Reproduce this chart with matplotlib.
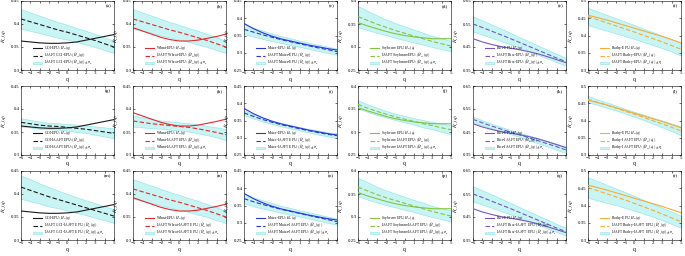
import matplotlib
matplotlib.use("Agg")
import matplotlib.pyplot as plt
import numpy as np

plt.rcParams["font.family"] = ["Liberation Serif", "DejaVu Serif"]
plt.rcParams["mathtext.fontset"] = "stix"

# ---------------------------------------------------------------------------
# Data
# ---------------------------------------------------------------------------
q = [-5, -4, -3, -2, -1, 0, 1, 2, 3, 4, 5]

names = ["GOI", "Wheat", "Maize", "Soybeans", "Rice", "Barley"]
colors = ["#1a1a1a", "#e8262b", "#2a36d8", "#86c440", "#7457c4", "#f4ad38"]

# EPU generalized Hurst exponents (same in every row)
goi_epu = [0.363, 0.361, 0.359, 0.358, 0.358, 0.359, 0.361, 0.365, 0.369, 0.373, 0.377]
wheat_epu = [0.392, 0.385, 0.378, 0.371, 0.366, 0.363, 0.363, 0.365, 0.369, 0.373, 0.378]
maize_epu = [0.385, 0.370, 0.358, 0.348, 0.340, 0.334, 0.328, 0.322, 0.317, 0.312, 0.308]
soy_epu = [0.353, 0.346, 0.340, 0.334, 0.329, 0.325, 0.322, 0.320, 0.318, 0.318, 0.318]
rice_epu = [0.486, 0.472, 0.461, 0.452, 0.445, 0.438, 0.430, 0.420, 0.408, 0.395, 0.382]
barley_epu = [0.459, 0.452, 0.445, 0.437, 0.429, 0.421, 0.413, 0.405, 0.397, 0.388, 0.379]

# IAAFT means, row 1 (IAAFT X-EPU)
row1_mean = [
    [0.411, 0.405, 0.399, 0.393, 0.387, 0.382, 0.376, 0.370, 0.364, 0.357, 0.350],
    [0.411, 0.405, 0.399, 0.393, 0.387, 0.382, 0.376, 0.370, 0.364, 0.357, 0.350],
    [0.368, 0.360, 0.352, 0.345, 0.338, 0.332, 0.326, 0.320, 0.314, 0.309, 0.303],
    [0.366, 0.358, 0.350, 0.343, 0.336, 0.330, 0.324, 0.318, 0.312, 0.307, 0.302],
    [0.550, 0.535, 0.519, 0.503, 0.487, 0.470, 0.453, 0.436, 0.419, 0.402, 0.386],
    [0.455, 0.446, 0.437, 0.428, 0.419, 0.410, 0.400, 0.391, 0.381, 0.371, 0.360],
]
row1_sigma = [
    [0.021, 0.020, 0.019, 0.018, 0.017, 0.016, 0.015, 0.015, 0.014, 0.014, 0.013],
    [0.021, 0.020, 0.019, 0.018, 0.017, 0.016, 0.015, 0.015, 0.014, 0.014, 0.013],
    [0.014, 0.013, 0.012, 0.011, 0.010, 0.010, 0.009, 0.009, 0.009, 0.009, 0.009],
    [0.023, 0.021, 0.019, 0.017, 0.016, 0.015, 0.014, 0.013, 0.012, 0.012, 0.011],
    [0.033, 0.031, 0.029, 0.027, 0.025, 0.023, 0.022, 0.020, 0.019, 0.018, 0.017],
    [0.025, 0.024, 0.023, 0.022, 0.021, 0.020, 0.019, 0.019, 0.018, 0.018, 0.018],
]

# IAAFT means, row 2 (X-IAAFT EPU)
row2_mean = [
    [0.371, 0.368, 0.365, 0.363, 0.362, 0.360, 0.358, 0.356, 0.353, 0.350, 0.347],
    [0.374, 0.371, 0.368, 0.366, 0.364, 0.362, 0.360, 0.357, 0.353, 0.349, 0.344],
    [0.372, 0.362, 0.353, 0.345, 0.338, 0.332, 0.326, 0.320, 0.315, 0.310, 0.306],
    [0.360, 0.352, 0.345, 0.339, 0.333, 0.328, 0.323, 0.318, 0.314, 0.309, 0.305],
    [0.505, 0.490, 0.476, 0.463, 0.450, 0.438, 0.425, 0.412, 0.399, 0.386, 0.372],
    [0.462, 0.453, 0.445, 0.436, 0.427, 0.418, 0.409, 0.399, 0.390, 0.380, 0.370],
]
row2_sigma = [
    [0.009, 0.008, 0.008, 0.007, 0.007, 0.007, 0.008, 0.008, 0.009, 0.010, 0.011],
    [0.012, 0.011, 0.010, 0.009, 0.009, 0.009, 0.009, 0.010, 0.010, 0.011, 0.012],
    [0.007, 0.006, 0.006, 0.005, 0.005, 0.005, 0.005, 0.005, 0.006, 0.006, 0.007],
    [0.009, 0.008, 0.008, 0.007, 0.007, 0.007, 0.007, 0.008, 0.008, 0.009, 0.010],
    [0.012, 0.011, 0.010, 0.009, 0.009, 0.009, 0.010, 0.011, 0.012, 0.013, 0.014],
    [0.009, 0.008, 0.008, 0.007, 0.007, 0.007, 0.008, 0.009, 0.010, 0.011, 0.013],
]

# IAAFT means, row 3 (IAAFT X-IAAFT EPU)
row3_mean = [
    [0.415, 0.408, 0.401, 0.394, 0.388, 0.382, 0.376, 0.370, 0.364, 0.358, 0.352],
    [0.411, 0.405, 0.399, 0.393, 0.387, 0.382, 0.376, 0.370, 0.364, 0.357, 0.350],
    [0.370, 0.361, 0.353, 0.346, 0.339, 0.333, 0.327, 0.321, 0.315, 0.309, 0.303],
    [0.365, 0.357, 0.349, 0.342, 0.336, 0.330, 0.324, 0.318, 0.312, 0.307, 0.302],
    [0.550, 0.535, 0.519, 0.503, 0.487, 0.470, 0.453, 0.436, 0.419, 0.402, 0.386],
    [0.452, 0.443, 0.434, 0.425, 0.416, 0.406, 0.396, 0.386, 0.375, 0.364, 0.353],
]
row3_sigma = [
    [0.025, 0.024, 0.022, 0.021, 0.019, 0.018, 0.017, 0.016, 0.016, 0.015, 0.015],
    [0.021, 0.020, 0.019, 0.018, 0.017, 0.016, 0.015, 0.015, 0.014, 0.014, 0.013],
    [0.014, 0.013, 0.012, 0.011, 0.010, 0.010, 0.009, 0.009, 0.009, 0.009, 0.009],
    [0.020, 0.019, 0.017, 0.016, 0.015, 0.014, 0.013, 0.013, 0.012, 0.012, 0.012],
    [0.033, 0.031, 0.029, 0.027, 0.025, 0.023, 0.022, 0.020, 0.019, 0.018, 0.017],
    [0.030, 0.028, 0.026, 0.024, 0.023, 0.021, 0.020, 0.019, 0.018, 0.018, 0.017],
]

epu = [goi_epu, wheat_epu, maize_epu, soy_epu, rice_epu, barley_epu]
means = [row1_mean, row2_mean, row3_mean]
sigmas = [row1_sigma, row2_sigma, row3_sigma]

ylims = [(0.3, 0.45), (0.3, 0.45), (0.25, 0.45), (0.25, 0.4), (0.35, 0.65), (0.3, 0.5)]
ysteps = [0.05, 0.05, 0.05, 0.05, 0.1, 0.05]
letters = "abcdefghijklmnopqr"

# ---------------------------------------------------------------------------
# Layout (pixel positions of the axes boxes)
# ---------------------------------------------------------------------------
W, H = 685, 256
col_left = [21, 133, 244, 358, 473, 588]
ax_w = 93
row_top = [1, 86, 171]
ax_h = 69

fig = plt.figure(figsize=(W / 100, H / 100), dpi=100)

HBAR = r"$\bar{H}_{xy}(q)$"
MEAN = r"$\langle\tilde{H}_{xy}(q)\rangle$"
BAND = r"$\langle\tilde{H}_{xy}(q)\rangle\pm\sigma_q$"

for r in range(3):
    for c in range(6):
        ax = fig.add_axes([col_left[c] / W, 1 - (row_top[r] + ax_h) / H,
                           ax_w / W, ax_h / H])
        name = names[c]
        col = colors[c]
        m = np.array(means[r][c])
        s = np.array(sigmas[r][c])

        if r == 0:
            lab_mean = f"IAAFT {name}-EPU: " + MEAN
            lab_band = f"IAAFT {name}-EPU: " + BAND
        elif r == 1:
            lab_mean = f"{name}-IAAFT EPU: " + MEAN
            lab_band = f"{name}-IAAFT EPU: " + BAND
        else:
            lab_mean = f"IAAFT {name}-IAAFT EPU: " + MEAN
            lab_band = f"IAAFT {name}-IAAFT EPU: " + BAND

        band = ax.fill_between(q, m - s, m + s, facecolor="#c8f4f4",
                               edgecolor="#8ae4e4", linewidth=0.4, zorder=1,
                               label=lab_band)
        l1, = ax.plot(q, epu[c], color=col, lw=0.8, zorder=3,
                      label=f"{name}-EPU: " + r"$H_{xy}(q)$")
        l2, = ax.plot(q, m, color=col, lw=0.8, ls=(0, (4, 2)), zorder=3,
                      label=lab_mean)

        lo, hi = ylims[c]
        ax.set_xlim(-5, 5)
        ax.set_ylim(lo, hi)
        ax.set_xticks(q)
        ax.set_yticks(np.round(np.arange(lo, hi + 1e-9, ysteps[c]), 2))
        ax.yaxis.set_major_formatter(
            matplotlib.ticker.FuncFormatter(lambda v, p: f"{v:g}"))
        ax.tick_params(direction="in", length=1.5, width=0.4, labelsize=3.5,
                       pad=1.0, top=True, right=True)
        for sp in ax.spines.values():
            sp.set_linewidth(0.4)
        ax.set_xlabel("q", fontsize=4, labelpad=0.8)
        ax.set_ylabel(HBAR, fontsize=3.5)
        ax.yaxis.set_label_coords(-0.125, 0.5)
        ax.text(0.97, 0.95, f"({letters[r * 6 + c]})", transform=ax.transAxes,
                ha="right", va="top", fontsize=3.8)
        ax.legend(handles=[l1, l2, band], loc="lower left",
                  bbox_to_anchor=(0.1, 0.0), fontsize=2.6, frameon=False,
                  handlelength=2.6, handleheight=0.4, labelspacing=-0.25,
                  borderpad=0.2, handletextpad=0.4)

fig.savefig("out.png", dpi=100)
